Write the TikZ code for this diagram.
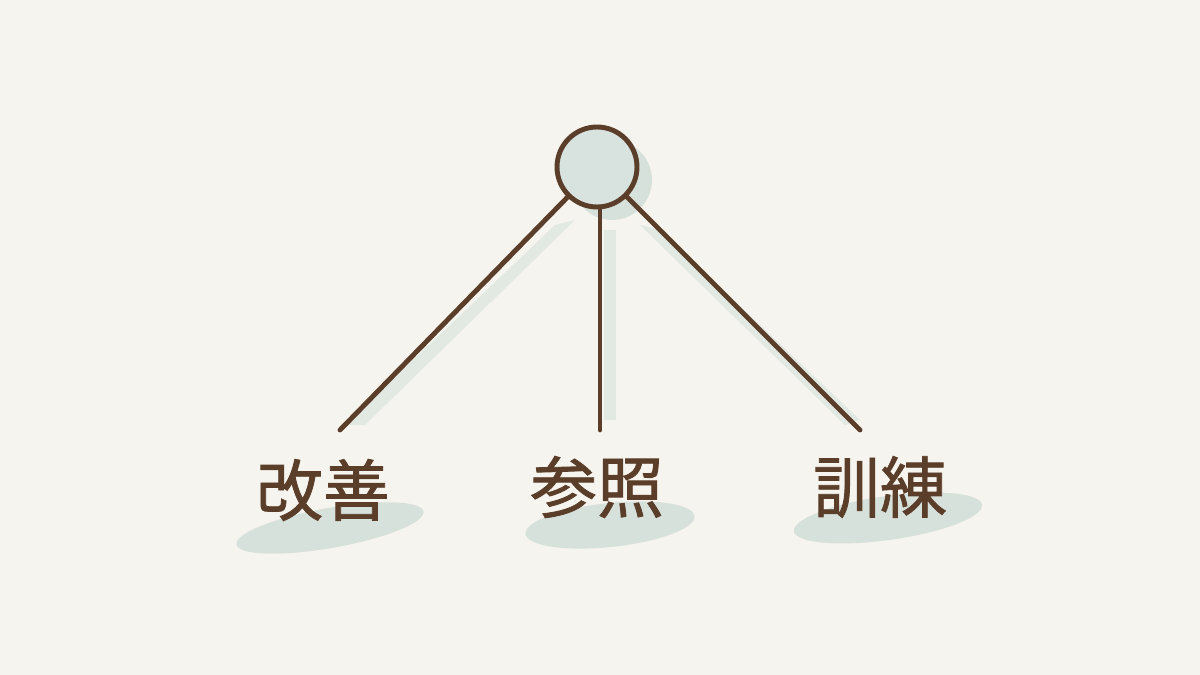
\documentclass[tikz,border=0pt]{standalone}
\usepackage{fontspec}
\newfontfamily\cjk[FakeBold=1.2]{Noto Sans CJK JP}
\begin{document}
\begin{tikzpicture}[x=0.02cm,y=-0.02cm,
  ink/.style={draw=inkc,line width=2.8pt,line cap=round},
  wash/.style={fill=washc,opacity=0.55},
  lbl/.style={text=inkc,font=\cjk\fontsize{38}{42}\selectfont,inner sep=0pt}]
\definecolor{bgc}{HTML}{F6F4EE}
\definecolor{inkc}{HTML}{5B3E2A}
\definecolor{washc}{HTML}{BFD2CD}
\definecolor{fillc}{HTML}{D8E3E0}
\fill[bgc] (0,0) rectangle (1200,675);
\useasboundingbox (0,0) rectangle (1200,675);
% washes
\fill[wash] (612,180) circle (40);
\fill[wash,rotate around={10:(330,528)}] (330,528) ellipse (95 and 20);
\fill[wash,rotate around={6:(610,525)}] (610,525) ellipse (85 and 22);
\fill[wash,rotate around={8:(888,518)}] (888,518) ellipse (95 and 22);
\fill[wash,opacity=0.35] (555,225) -- (575,220) -- (365,425) -- (345,425) -- cycle;
\fill[wash,opacity=0.35] (604,230) rectangle (616,420);
\fill[wash,opacity=0.35] (640,225) -- (660,230) -- (860,420) -- (845,425) -- cycle;
% hub
\node[circle,draw=inkc,line width=2.8pt,fill=fillc,minimum size=1.6cm,inner sep=0pt] (hub) at (597,167) {};
\coordinate (e1) at (340,430);
\coordinate (e2) at (600,430);
\coordinate (e3) at (860,430);
\draw[ink] (hub) -- (e1);
\draw[ink] (hub.south) ++(3,0) coordinate (hs) (hs) -- (e2);
\draw[ink] (hub) -- (e3);
\node[lbl] (l1) at (323,490) {改善};
\node[lbl] (l2) at (597,487) {参照};
\node[lbl] (l3) at (880,487) {訓練};
\end{tikzpicture}
\end{document}
